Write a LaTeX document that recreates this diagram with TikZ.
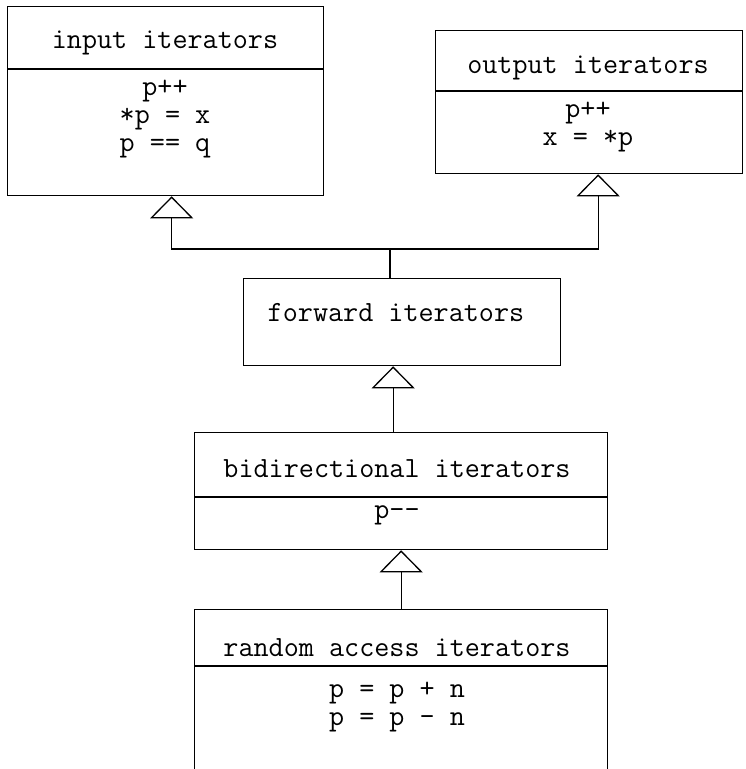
\documentclass[tikz,border=0pt]{standalone}
\usetikzlibrary{arrows.meta}
\tikzset{
  box/.style={draw,line width=1.3pt,anchor=north west,inner sep=0pt},
  lbl/.style={font=\ttfamily\fontsize{29.3}{28}\selectfont,align=center,inner sep=0pt},
  isa/.style={line width=1.3pt,-{Triangle[open,length=22pt,width=43pt]}}
}
\newcommand{\divider}[2]{\draw[line width=1.3pt] (#1.west |- 0,#2) -- (#1.east |- 0,#2);}

\begin{document}
\begin{tikzpicture}[x=1pt,y=-1pt]
\clip (0,0) rectangle (745,769);
% class boxes
\node[box,minimum width=316,minimum height=189] (inp) at (7,6) {};
\node[box,minimum width=307,minimum height=143] (outp) at (435,30) {};
\node[box,minimum width=317,minimum height=87] (fwd) at (243,278) {};
\node[box,minimum width=413,minimum height=117] (bidi) at (194,432) {};
\node[box,minimum width=413,minimum height=220] (rand) at (194,609) {};
\divider{inp}{69}\divider{outp}{91}\divider{bidi}{497}\divider{rand}{666}
% names and operations
\node[lbl] (inpT) at (165,43) {input iterators};
\node[lbl] (inpO) at (165,119) {p++\\*p = x\\p == q};
\node[lbl] (outpT) at (588,68) {output iterators};
\node[lbl] (outpO) at (588,127) {p++\\x = *p};
\node[lbl] (fwdT) at (396,313) {forward iterators};
\node[lbl] (bidiT) at (397,469) {bidirectional iterators};
\node[lbl] (bidiO) at (397,515) {p--};
\node[lbl] (randT) at (397,648) {random access iterators};
\node[lbl] (randO) at (397,707) {p = p + n\\p = p - n};
% inheritance
\coordinate (j) at (390,249);
\draw[line width=1.3pt] (j |- fwd.north) -- (j);
\draw[isa] (j) -| ([xshift=6pt]inp.south);
\draw[isa] (j) -| ([xshift=9pt]outp.south);
\draw[isa] ([xshift=-8pt]bidi.north) -- ([xshift=-8pt]bidi.north |- fwd.south);
\draw[isa] (rand.north) -- (rand.north |- bidi.south);
\end{tikzpicture}
\end{document}
